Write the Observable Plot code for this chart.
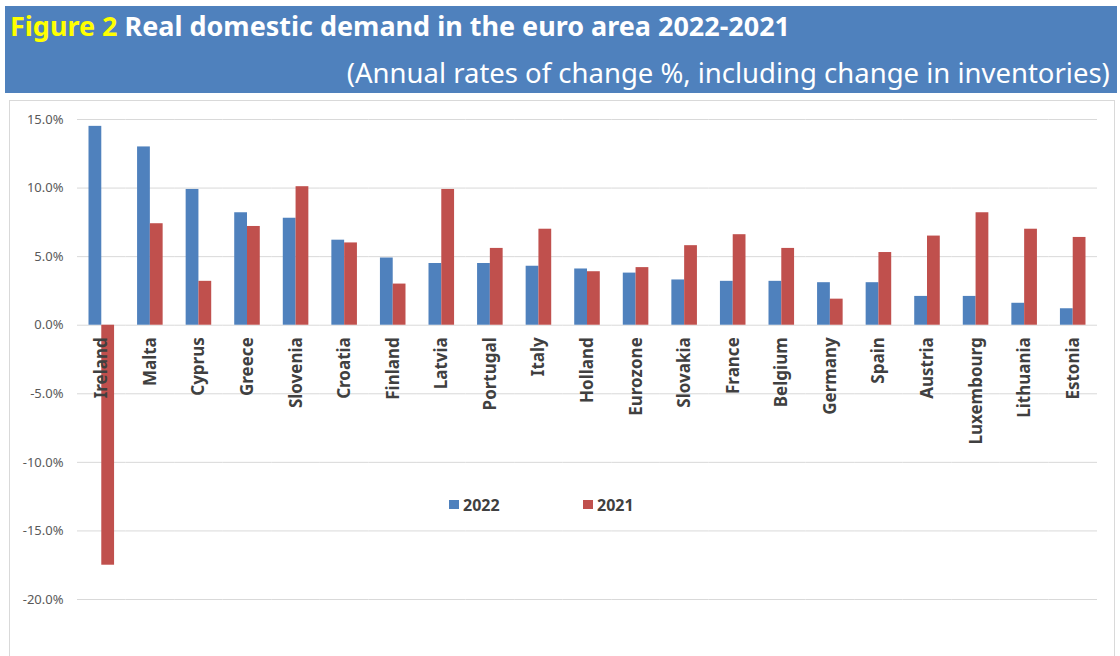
<!DOCTYPE html>
<html>
<head>
<meta charset="utf-8">
<script src="https://cdn.jsdelivr.net/npm/d3@7"></script>
<script src="https://cdn.jsdelivr.net/npm/@observablehq/plot@0.6"></script>
<style>
  html, body { margin: 0; padding: 0; background: #fff; width: 1120px; height: 656px; overflow: hidden; }
  body { position: relative; font-family: "Noto Sans", sans-serif; }
  #header { position: absolute; left: 5px; top: 6px; width: 1112px; height: 87px; background: #4F81BD; }
  #title { position: absolute; left: 5px; top: 6px; font-size: 27px; line-height: 1; font-weight: bold; color: #fff; white-space: nowrap; transform-origin: left center; }
  #title .fig { color: #FFFF00; }
  #subtitle { position: absolute; right: 7px; top: 53px; font-size: 27px; line-height: 1; color: #fff; white-space: nowrap; transform-origin: right center; }
  #chart { position: absolute; left: 9px; top: 100px; width: 1104px; height: 600px; border: 1px solid #d9d9d9; box-sizing: content-box; }
  #chart svg { display: block; }
  .leg { position: absolute; font-size: 16px; line-height: 1; font-weight: bold; color: #404040; }
  .sw { position: absolute; width: 10px; height: 9px; }
</style>
</head>
<body>
<div id="header">
  <div id="title"><span class="fig">Figure 2</span> Real domestic demand in the euro area 2022-2021</div>
  <div id="subtitle">(Annual rates of change %, including change in inventories)</div>
</div>
<div id="chart"></div>
<div class="sw" style="left:449px; top:500px; background:#4F81BD;"></div>
<div class="leg" style="left:463px; top:497px;">2022</div>
<div class="sw" style="left:583px; top:500px; background:#C0504D;"></div>
<div class="leg" style="left:597px; top:497px;">2021</div>
<script>
const countries = ["Ireland", "Malta", "Cyprus", "Greece", "Slovenia", "Croatia", "Finland", "Latvia", "Portugal", "Italy", "Holland", "Eurozone", "Slovakia", "France", "Belgium", "Germany", "Spain", "Austria", "Luxembourg", "Lithuania", "Estonia"];
const v2022 = [14.5, 13.0, 9.9, 8.2, 7.8, 6.2, 4.9, 4.5, 4.5, 4.3, 4.1, 3.8, 3.3, 3.2, 3.2, 3.1, 3.1, 2.1, 2.1, 1.6, 1.2];
const v2021 = [-17.5, 7.4, 3.2, 7.2, 10.1, 6.0, 3.0, 9.9, 5.6, 7.0, 3.9, 4.2, 5.8, 6.6, 5.6, 1.9, 5.3, 6.5, 8.2, 7.0, 6.4];
const years = ["2022", "2021"];
const yTicks = [-20, -15, -10, -5, 0, 5, 10, 15];

const rows = [];
countries.forEach((c, i) => {
  rows.push({country: c, year: "2022", value: v2022[i]});
  rows.push({country: c, year: "2021", value: v2021[i]});
});

const chart = Plot.plot({
  width: 1104,
  height: 555,
  marginLeft: 67,
  marginRight: 17,
  marginTop: 18,
  marginBottom: 57,
  style: {fontFamily: "Noto Sans", fontSize: "13px", color: "#595959", background: "transparent"},
  fx: {domain: countries, padding: 0, round: false, axis: null},
  x: {domain: years, paddingInner: 0, paddingOuter: 0.9, round: false, axis: null},
  y: {domain: [-20, 15], ticks: yTicks, tickFormat: d => d.toFixed(1) + "%", tickSize: 0, tickPadding: 14, label: null},
  color: {domain: years, range: ["#4F81BD", "#C0504D"]},
  marks: [
    Plot.ruleY(yTicks, {stroke: "#d9d9d9", strokeWidth: 1}),
    Plot.barY(rows, {fx: "country", x: "year", y: "value", fill: "year"}),
    Plot.text(countries, {fx: d => d, y: () => 0, text: d => d, rotate: -90, textAnchor: "end", lineAnchor: "middle", dy: 12, fontWeight: "bold", fontSize: 17, fill: "#404040"})
  ]
});
document.getElementById("chart").appendChild(chart);

function fit(el, target) {
  el.style.transform = "none";
  const w = el.getBoundingClientRect().width;
  if (w > 0) el.style.transform = "scaleX(" + (target / w) + ")";
}
function fitAll() {
  fit(document.getElementById("title"), 780);
  fit(document.getElementById("subtitle"), 763);
}
fitAll();
if (document.fonts && document.fonts.ready) document.fonts.ready.then(fitAll);
</script>
</body>
</html>
